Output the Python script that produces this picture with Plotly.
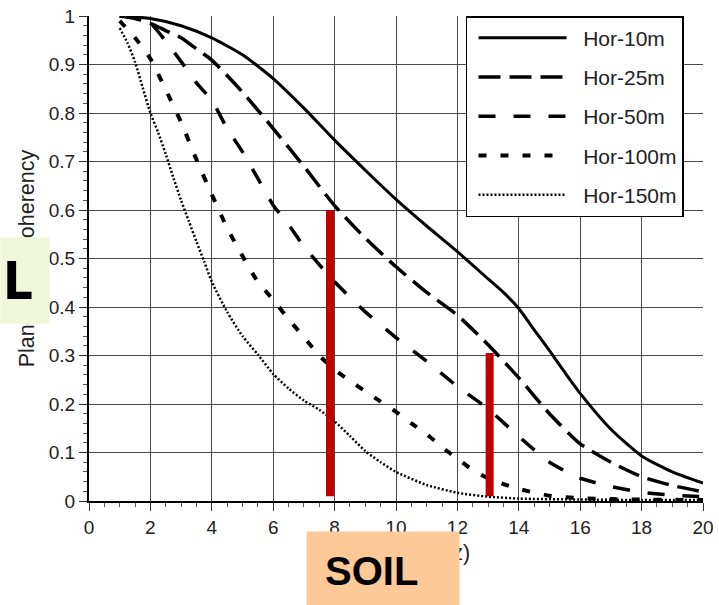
import plotly.graph_objects as go

# ---- data ----
x_10 = [1, 2, 3, 4, 5, 6, 7, 8, 9, 10, 11, 12, 13, 13.5, 14, 14.5, 15, 15.5, 16, 17, 18, 19, 20]
y_10 = [1.0, 0.995, 0.98, 0.955, 0.92, 0.871, 0.81, 0.744, 0.682, 0.622, 0.567, 0.514, 0.458,
        0.43, 0.397, 0.353, 0.31, 0.265, 0.222, 0.148, 0.093, 0.06, 0.037]

x_25 = [1, 1.5, 2, 2.5, 3, 3.5, 4, 5, 6, 7, 8, 9, 10, 11, 12, 13, 14, 15, 16, 17, 18, 19, 20]
y_25 = [1.0, 0.995, 0.985, 0.97, 0.955, 0.932, 0.909, 0.843, 0.768, 0.69, 0.609, 0.542, 0.483,
        0.43, 0.383, 0.322, 0.254, 0.18, 0.118, 0.08, 0.05, 0.032, 0.019]

x_50 = [1, 1.5, 2, 2.5, 3, 3.5, 4, 4.5, 5, 5.5, 6, 6.5, 7, 8, 9, 10, 11, 12, 13, 14, 15, 16,
        17, 18, 19, 20]
y_50 = [1.0, 0.997, 0.985, 0.948, 0.906, 0.862, 0.826, 0.768, 0.72, 0.665, 0.61, 0.57, 0.525,
        0.452, 0.39, 0.337, 0.288, 0.236, 0.19, 0.133, 0.08, 0.047, 0.03, 0.018, 0.012, 0.009]

x_100 = [1, 1.5, 2, 2.5, 3, 3.5, 4, 4.5, 5, 5.5, 6, 6.5, 7, 7.5, 8, 8.5, 9, 9.5, 10, 10.5, 11,
         11.5, 12, 12.5, 13, 13.5, 14, 15, 16, 17, 18, 20]
y_100 = [0.99, 0.955, 0.912, 0.848, 0.781, 0.704, 0.632, 0.563, 0.505, 0.452, 0.415, 0.375,
         0.338, 0.3, 0.271, 0.248, 0.226, 0.205, 0.184, 0.16, 0.138, 0.111, 0.087, 0.064, 0.047,
         0.035, 0.025, 0.011, 0.006, 0.004, 0.003, 0.002]

x_150 = [1, 1.25, 1.5, 1.75, 2, 2.25, 2.5, 2.75, 3, 3.25, 3.5, 3.75, 4, 4.5, 5, 5.5, 6, 6.5, 7,
         7.5, 8, 8.5, 9, 9.5, 10, 11, 12, 13, 14, 16, 18, 20]
y_150 = [0.975, 0.945, 0.905, 0.852, 0.8, 0.76, 0.715, 0.666, 0.62, 0.577, 0.535, 0.494, 0.452,
         0.39, 0.34, 0.302, 0.262, 0.232, 0.207, 0.188, 0.164, 0.134, 0.103, 0.08, 0.06, 0.033,
         0.017, 0.009, 0.005, 0.003, 0.002, 0.002]

series_names = ["Hor-10m", "Hor-25m", "Hor-50m", "Hor-100m", "Hor-150m"]

# red marker bars (frequency, bottom, top)
bar_x = [7.85, 13.05]
bar_bottom = [0.01, 0.01]
bar_top = [0.6, 0.305]

x_ticks = [0, 2, 4, 6, 8, 10, 12, 14, 16, 18, 20]
y_ticks = [0, 0.1, 0.2, 0.3, 0.4, 0.5, 0.6, 0.7, 0.8, 0.9, 1]

# ---- styling ----
FONT = "Liberation Sans, Arial, Helvetica, sans-serif"
styles = [
    dict(dash="solid", width=3),
    dict(dash="22px,9px", width=3.5),
    dict(dash="17px,18px", width=3.5),
    dict(dash="8px,14px", width=4),
    dict(dash="2px,2px", width=2.5),
]

fig = go.Figure()
for (xs, ys), name, st in zip(
        [(x_10, y_10), (x_25, y_25), (x_50, y_50), (x_100, y_100), (x_150, y_150)],
        series_names, styles):
    fig.add_trace(go.Scatter(
        x=xs, y=ys, name="  " + name, mode="lines", legendgroup=name,
        line=dict(color="black", width=st["width"], dash=st["dash"], shape="spline", smoothing=0.6),
    ))

for bx, b0, b1 in zip(bar_x, bar_bottom, bar_top):
    fig.add_trace(go.Scatter(
        x=[bx, bx], y=[b0, b1], mode="lines", showlegend=False, hoverinfo="skip",
        line=dict(color="#c00000", width=8),
    ))

axis_common = dict(
    showgrid=True, gridcolor="#4a4a4a", gridwidth=1.4,
    showline=True, linecolor="black", linewidth=2,
    ticks="outside", ticklen=8, tickwidth=1.2, tickcolor="#333",
    tickfont=dict(family=FONT, size=19, color="#222"),
    zeroline=False, automargin=False,
)

fig.update_layout(
    width=719, height=605,
    margin=dict(l=89, r=16, t=16, b=104),
    paper_bgcolor="white", plot_bgcolor="white",
    font=dict(family=FONT, color="#222"),
    xaxis=dict(range=[0, 20], tickvals=x_ticks, **axis_common,
               minor=dict(ticks="outside", dtick=0.5, ticklen=4, tickcolor="#555", showgrid=False),
               title=dict(text="Frequency (Hz)", font=dict(family=FONT, size=21.5, color="#222"),
                          standoff=8)),
    yaxis=dict(range=[0, 1], tickvals=y_ticks, **axis_common,
               minor=dict(ticks="outside", dtick=0.02, ticklen=4, tickcolor="#555", showgrid=False),
               title=dict(text="Plane-wave coherency", font=dict(family=FONT, size=21.5, color="#222"),
                          standoff=8)),
    legend=dict(
        x=0.614, y=1.0, xanchor="left", yanchor="top",
        bgcolor="white", bordercolor="black", borderwidth=1.5,
        font=dict(family=FONT, size=21, color="#222"),
        itemwidth=88, tracegroupgap=9, indentation=6,
    ),
    showlegend=True,
)

# overlay boxes (covering parts of the axis titles, as in the reference)
fig.add_annotation(xref="paper", yref="paper", x=(0 - 89) / 614, y=(501 - 237) / 485,
                   xanchor="left", yanchor="top", text=" ", showarrow=False,
                   width=48, height=85, bgcolor="#f0f6d8", borderpad=0)
fig.add_annotation(xref="paper", yref="paper", x=(1 - 89) / 614, y=(501 - 281) / 485,
                   xanchor="left", yanchor="middle", text="<b>L</b>", showarrow=False,
                   font=dict(family="Liberation Sans Narrow, DejaVu Sans Condensed, " + FONT,
                             size=52, color="black"))
fig.add_annotation(xref="paper", yref="paper", x=(306 - 89) / 614, y=(501 - 531) / 485,
                   xanchor="left", yanchor="top", text=" ", showarrow=False,
                   width=152, height=76, bgcolor="#fdc998", borderpad=0)
fig.add_annotation(xref="paper", yref="paper", x=(323 - 89) / 614, y=(501 - 571) / 485,
                   xanchor="left", yanchor="middle", text="<b>SOIL</b>", showarrow=False,
                   font=dict(family="Liberation Sans Narrow, Arial Narrow, " + FONT, size=40,
                             color="black"))

# remove the browser's default body margin so the figure sits at the page origin
fig.write_html("out.html", config={"displayModeBar": False},
               post_script="document.body.style.margin='0';")
